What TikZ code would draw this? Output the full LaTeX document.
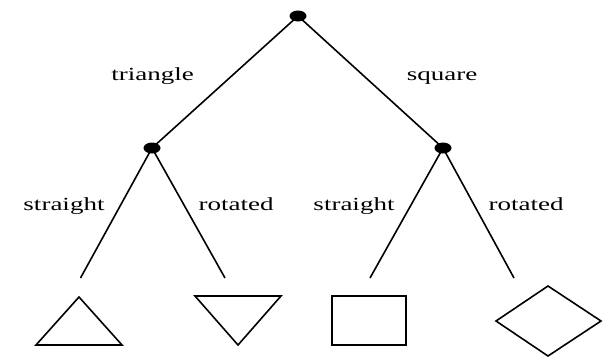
\documentclass[tikz,border=0pt]{standalone}
\usepackage{fontspec}
\setmainfont{Liberation Serif}
\usetikzlibrary{shapes.geometric}

\begin{document}
\begin{tikzpicture}[
  x=1pt, y=-1pt,
  dot/.style={ellipse,fill,inner sep=0pt,minimum width=17pt,minimum height=11pt},
  edge/.style={line width=1.6pt},
  lbl/.style={anchor=base,inner sep=0pt,xscale=1.46,font=\fontsize{18.5}{20}\selectfont},
  leaf/.style={line width=1.6pt,line join=miter},
]
  \useasboundingbox (0,0) rectangle (610,357);

  % decision points
  \node[dot] (root) at (298,16) {};
  \node[dot] (tri) at (152,148) {};
  \node[dot] (sq) at (443,148) {};

  % loose ends of the lower branches
  \coordinate (triS) at (80.5,278);
  \coordinate (triR) at (225,278);
  \coordinate (sqS) at (370,278);
  \coordinate (sqR) at (514,278);

  \draw[edge] (root.center) -- (tri.center);
  \draw[edge] (root.center) -- (sq.center);
  \draw[edge] (tri.center) -- (triS);
  \draw[edge] (tri.center) -- (triR);
  \draw[edge] (sq.center) -- (sqS);
  \draw[edge] (sq.center) -- (sqR);

  % branch labels
  \node[lbl] (ltri) at (152.5,80.5) {triangle};
  \node[lbl] (lsq) at (442,80.5) {square};
  \node[lbl] (ltriS) at (64,210) {straight};
  \node[lbl] (ltriR) at (236,210) {rotated};
  \node[lbl] (lsqS) at (354,210) {straight};
  \node[lbl] (lsqR) at (526,210) {rotated};

  % outcomes
  \draw[leaf] (79,297) -- (122,345) -- (36,345) -- cycle;
  \draw[leaf] (195,296) -- (281,296) -- (238,345) -- cycle;
  \draw[leaf] (332,296) rectangle (406,345);
  \draw[leaf] (496,321) -- (548,286) -- (601,321) -- (548,356) -- cycle;
\end{tikzpicture}
\end{document}
